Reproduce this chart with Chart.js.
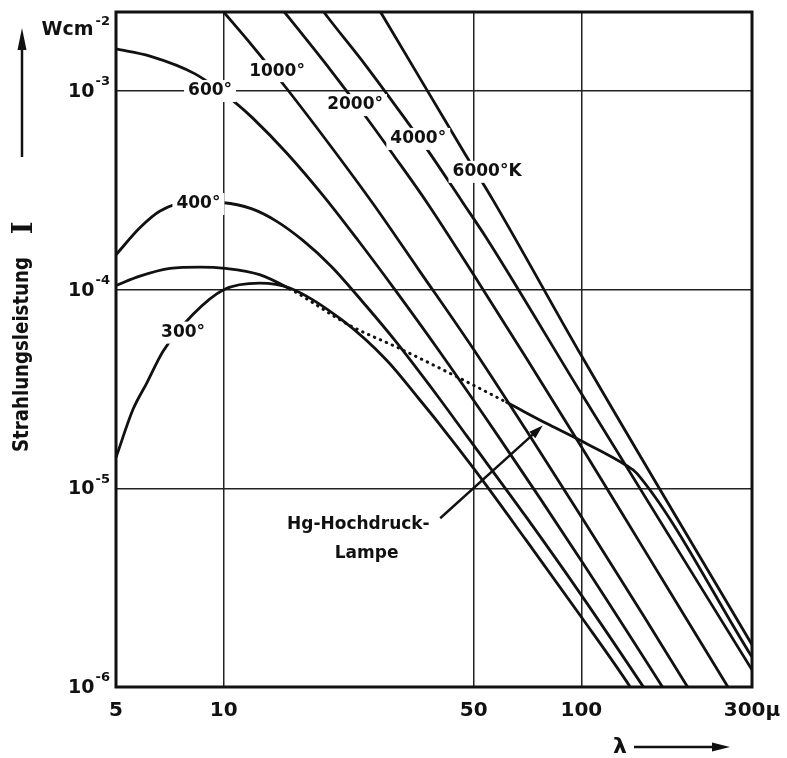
<!DOCTYPE html>
<html lang="de">
<head>
<meta charset="UTF-8">
<title>Strahlungsleistung schwarzer Strahler</title>
<script src="https://cdn.jsdelivr.net/npm/chart.js"></script>
<style>
  html, body { margin: 0; padding: 0; background: #fff; }
  canvas { display: block; }
</style>
</head>
<body>
<canvas id="strahlung" width="787" height="758"></canvas>
<script>
// Wellenlaenge in µ, Strahlungsleistung in W cm^-2
const wl300 = [5, 5.58, 6.1, 6.77, 8.2, 10, 12.6, 15.3, 21.5, 28.6, 35, 40, 50, 70, 100, 137, 150];
const i300 = [1.43e-5, 2.5e-5, 3.4e-5, 4.9e-5, 7.5e-5, 1.0e-4, 1.08e-4, 1.02e-4, 7.0e-5, 4.4e-5, 2.85e-5, 2.12e-5, 1.26e-5, 5.5e-6, 2.25e-6, 1.0e-6, 7.7e-7];

const wl400 = [5, 5.83, 6.64, 8, 10, 12, 14, 16.65, 20, 25, 30, 40, 48, 70, 100, 148.6, 170];
const i400 = [1.5e-4, 2.05e-4, 2.49e-4, 2.76e-4, 2.74e-4, 2.55e-4, 2.22e-4, 1.77e-4, 1.31e-4, 8.3e-5, 5.6e-5, 2.85e-5, 1.82e-5, 7.2e-6, 2.9e-6, 1.01e-6, 7.0e-7];

const wl600 = [5, 6.22, 8.32, 10.9, 12, 15, 19, 23.6, 30, 40, 59.3, 100, 169, 200];
const i600 = [1.63e-3, 1.5e-3, 1.22e-3, 8.6e-4, 7.37e-4, 4.88e-4, 2.97e-4, 1.8e-4, 1.01e-4, 4.93e-5, 1.77e-5, 4.32e-6, 9.94e-7, 6.15e-7];

const wl1000 = [9, 10, 12, 15, 20, 26.2, 35, 50, 70, 100, 150, 201, 230];
const i1000 = [3.12e-3, 2.5e-3, 1.7e-3, 1.03e-3, 5.23e-4, 2.7e-4, 1.27e-4, 5.0e-5, 1.97e-5, 7.2e-6, 2.25e-6, 9.6e-7, 6.5e-7];

const wl2000 = [14, 15.1, 20, 25, 30, 37, 50, 70, 100, 150, 257, 300];
const i2000 = [2.81e-3, 2.38e-3, 1.26e-3, 7.4e-4, 4.7e-4, 2.75e-4, 1.19e-4, 4.56e-5, 1.62e-5, 4.9e-6, 1.0e-6, 6.3e-7];

const wl4000 = [18, 19.45, 25, 32.8, 37.3, 46.6, 54.5, 100, 300];
const i4000 = [2.87e-3, 2.38e-3, 1.34e-3, 6.9e-4, 5.0e-4, 2.75e-4, 1.8e-4, 3.0e-5, 1.22e-6];

const wl6000 = [26, 27.9, 47.3, 56.8, 100, 300];
const i6000 = [2.94e-3, 2.38e-3, 4.82e-4, 2.8e-4, 4.66e-5, 1.63e-6];

// Hg-Hochdrucklampe, gepunktet zwischen 15 und 62 µ
const wlHg = [5, 5.83, 7.08, 8.6, 10.1, 12.6, 15.3, 22.6, 31.1, 48.9, 61.8, 80, 97, 134, 143, 300];
const iHg = [1.05e-4, 1.17e-4, 1.28e-4, 1.30e-4, 1.28e-4, 1.19e-4, 1.01e-4, 6.59e-5, 5.05e-5, 3.37e-5, 2.71e-5, 2.12e-5, 1.78e-5, 1.3e-5, 1.19e-5, 1.415e-6];
const hgDotFrom = 6, hgDotTo = 10;

const xTicks = [5, 10, 50, 100, 300];
const yTicks = [1e-6, 1e-5, 1e-4, 1e-3];
const yTickExp = ['-6', '-5', '-4', '-3'];

// Beschriftungen an den Kurven (Lage in Datenkoordinaten)
const curveLabels = [
  { text: '600°', x: 9.16, y: 1e-3 },
  { text: '1000°', x: 14.1, y: 1.26e-3 },
  { text: '2000°', x: 23.3, y: 8.5e-4 },
  { text: '4000°', x: 35, y: 5.74e-4 },
  { text: '6000°K', x: 54.5, y: 3.92e-4 },
  { text: '400°', x: 8.5, y: 2.7e-4 },
  { text: '300°', x: 7.7, y: 6.08e-5 }
];

function pts(xs, ys) {
  return xs.map((x, i) => ({ x: x, y: ys[i] }));
}

function kurve(xs, ys) {
  return {
    data: pts(xs, ys),
    borderColor: '#111',
    borderWidth: 2.8,
    pointRadius: 0,
    showLine: true,
    cubicInterpolationMode: 'monotone'
  };
}

const hgSet = kurve(wlHg, iHg);
hgSet.borderCapStyle = 'round';
hgSet.segment = {
  borderDash: ctx => (ctx.p0DataIndex >= hgDotFrom && ctx.p1DataIndex <= hgDotTo) ? [0.5, 6] : undefined,
  borderWidth: ctx => (ctx.p0DataIndex >= hgDotFrom && ctx.p1DataIndex <= hgDotTo) ? 3 : 2.8
};

function arrow(ctx, x1, y1, x2, y2, len, half) {
  const a = Math.atan2(y2 - y1, x2 - x1);
  ctx.beginPath();
  ctx.moveTo(x1, y1);
  ctx.lineTo(x2 - Math.cos(a) * len * 0.8, y2 - Math.sin(a) * len * 0.8);
  ctx.stroke();
  ctx.beginPath();
  ctx.moveTo(x2, y2);
  ctx.lineTo(x2 - Math.cos(a) * len - Math.sin(a) * half, y2 - Math.sin(a) * len + Math.cos(a) * half);
  ctx.lineTo(x2 - Math.cos(a) * len + Math.sin(a) * half, y2 - Math.sin(a) * len - Math.cos(a) * half);
  ctx.closePath();
  ctx.fill();
}

const beschriftung = {
  id: 'beschriftung',
  afterDatasetsDraw(chart) {
    const ctx = chart.ctx;
    const sx = chart.scales.x, sy = chart.scales.y;
    const a = chart.chartArea;
    ctx.save();
    ctx.fillStyle = '#111';
    ctx.strokeStyle = '#111';

    // Kurvenbeschriftung mit weissem Grund
    ctx.font = 'bold 17px "DejaVu Sans"';
    ctx.textAlign = 'center';
    ctx.textBaseline = 'middle';
    curveLabels.forEach(l => {
      const x = sx.getPixelForValue(l.x), y = sy.getPixelForValue(l.y);
      const w = ctx.measureText(l.text).width;
      ctx.fillStyle = '#fff';
      ctx.fillRect(x - w / 2 - 4, y - 11, w + 8, 22);
      ctx.fillStyle = '#111';
      ctx.fillText(l.text, x, y);
    });

    // Hg-Lampe
    ctx.fillText('Hg-Hochdruck-', sx.getPixelForValue(23.8), sy.getPixelForValue(6.6e-6));
    ctx.fillText('Lampe', sx.getPixelForValue(25.1), sy.getPixelForValue(4.72e-6));
    ctx.lineWidth = 2.4;
    arrow(ctx, sx.getPixelForValue(40.3), sy.getPixelForValue(7.07e-6),
      sx.getPixelForValue(78), sy.getPixelForValue(2.07e-5), 14, 4.5);

    // Rahmen
    ctx.lineWidth = 3;
    ctx.strokeRect(a.left, a.top, a.right - a.left, a.bottom - a.top);

    // y-Teilung 10^n
    ctx.textBaseline = 'middle';
    yTicks.forEach((v, i) => {
      const y = sy.getPixelForValue(v);
      ctx.font = 'bold 13px "DejaVu Sans"';
      ctx.textAlign = 'right';
      const we = ctx.measureText(yTickExp[i]).width;
      ctx.fillText(yTickExp[i], a.left - 6, y - 9);
      ctx.font = 'bold 19px "DejaVu Sans"';
      ctx.fillText('10', a.left - 7 - we, y + 1);
    });

    // Einheit
    ctx.font = 'bold 13px "DejaVu Sans"';
    ctx.textAlign = 'right';
    ctx.fillText('-2', a.left - 6, 22);
    const w2 = ctx.measureText('-2').width;
    ctx.font = 'bold 19px "DejaVu Sans"';
    ctx.fillText('Wcm', a.left - 8 - w2, 30);

    // y-Achsentitel, Breite an Vorlage angepasst
    ctx.save();
    ctx.translate(28, 452);
    ctx.rotate(-Math.PI / 2);
    ctx.textAlign = 'left';
    ctx.textBaseline = 'alphabetic';
    ctx.font = 'bold 21px "DejaVu Sans"';
    const wt = ctx.measureText('Strahlungsleistung').width;
    ctx.save();
    ctx.scale(195 / wt, 1);
    ctx.fillText('Strahlungsleistung', 0, 0);
    ctx.restore();
    ctx.font = 'bold 27px "DejaVu Serif"';
    ctx.textAlign = 'center';
    ctx.fillText('I', 224, 4);
    ctx.restore();
    ctx.lineWidth = 2.5;
    arrow(ctx, 22, 157, 22, 28, 22, 4.5);

    // x-Achsentitel
    ctx.font = 'bold 22px "DejaVu Sans"';
    ctx.textAlign = 'center';
    ctx.textBaseline = 'middle';
    ctx.fillText('\u03bb', 620, 747);
    ctx.lineWidth = 2.5;
    arrow(ctx, 634, 747, 730, 747, 18, 4.5);
    ctx.restore();
  }
};

new Chart(document.getElementById('strahlung'), {
  type: 'scatter',
  data: {
    datasets: [
      kurve(wl300, i300),
      kurve(wl400, i400),
      kurve(wl600, i600),
      kurve(wl1000, i1000),
      kurve(wl2000, i2000),
      kurve(wl4000, i4000),
      kurve(wl6000, i6000),
      hgSet
    ]
  },
  options: {
    responsive: false,
    animation: false,
    devicePixelRatio: 1,
    layout: { padding: { left: 0, right: 35, top: 12, bottom: 0 } },
    plugins: { legend: { display: false }, tooltip: { enabled: false } },
    scales: {
      x: {
        type: 'logarithmic',
        min: 5,
        max: 300,
        afterBuildTicks: s => { s.ticks = xTicks.map(v => ({ value: v })); },
        afterFit: s => { s.height = 71; s.paddingLeft = 0; s.paddingRight = 0; },
        grid: { color: '#222', lineWidth: 1.5, drawTicks: false },
        border: { display: false },
        ticks: {
          autoSkip: false,
          maxRotation: 0,
          padding: 12,
          color: '#111',
          font: { family: 'DejaVu Sans', size: 20, weight: 'bold' },
          callback: v => (v === 300 ? '300\u00b5' : String(v))
        }
      },
      y: {
        type: 'logarithmic',
        min: 1e-6,
        max: 2.5e-3,
        afterBuildTicks: s => { s.ticks = yTicks.map(v => ({ value: v })); },
        afterFit: s => { s.width = 116; s.paddingTop = 0; s.paddingBottom = 0; },
        grid: { color: '#222', lineWidth: 1.5, drawTicks: false },
        border: { display: false },
        ticks: { display: false }
      }
    }
  },
  plugins: [beschriftung]
});
</script>
</body>
</html>
